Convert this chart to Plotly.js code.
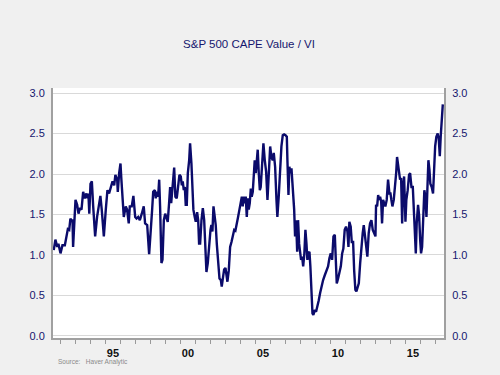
<!DOCTYPE html>
<html>
<head>
<meta charset="utf-8">
<script src="https://cdn.plot.ly/plotly-3.0.1.min.js"></script>
<style>html,body{margin:0;padding:0;background:#f0f0f0;}#chart{width:500px;height:375px;}</style>
</head>
<body>
<div id="chart"></div>
<script>
// Time (decimal years) and S&P 500 CAPE Value / VI ratio
const years = [
1991.55,1991.66,1991.78,1991.86,1992.00,1992.13,1992.29,1992.40,1992.49,1992.58,1992.66,1992.75,1992.80,1992.84,
1993.00,1993.11,1993.20,1993.29,1993.40,1993.51,1993.62,1993.73,1993.80,1993.86,1993.92,1994.00,1994.09,1994.18,
1994.31,1994.44,1994.53,1994.66,1994.75,1994.89,1995.02,1995.13,1995.24,1995.33,1995.47,1995.58,1995.66,1995.78,
1995.82,1995.91,1996.00,1996.06,1996.13,1996.22,1996.35,1996.44,1996.55,1996.62,1996.75,1996.86,1996.98,1997.07,
1997.18,1997.29,1997.42,1997.55,1997.64,1997.78,
1997.91,1998.02,1998.11,1998.18,1998.29,1998.35,1998.44,1998.51,1998.58,1998.64,1998.73,1998.80,1998.89,1998.98,
1999.06,1999.15,1999.24,1999.31,1999.38,1999.44,1999.51,1999.58,1999.66,1999.75,1999.84,1999.93,2000.02,2000.09,
2000.15,2000.22,2000.29,2000.35,2000.42,2000.49,2000.58,2000.64,2000.73,2000.80,2000.86,2000.95,2001.02,2001.11,
2001.18,2001.24,2001.31,2001.40,2001.49,2001.58,2001.66,2001.73,2001.82,2001.91,2002.00,2002.06,2002.13,2002.20,
2002.29,2002.35,2002.42,2002.51,2002.60,2002.69,2002.75,2002.84,2002.91,2003.00,2003.06,2003.13,2003.22,2003.31,
2003.40,2003.49,2003.58,2003.66,2003.75,2003.84,2003.93,2004.02,2004.09,2004.15,2004.20,2004.26,
2004.35,2004.42,2004.49,2004.55,2004.62,2004.69,2004.75,2004.82,2004.89,2004.95,2005.02,2005.09,2005.15,2005.22,
2005.29,2005.35,2005.44,2005.53,2005.62,2005.71,2005.80,2005.89,2005.98,2006.06,2006.15,2006.22,2006.31,2006.40,
2006.46,2006.55,2006.64,2006.73,2006.82,2006.91,2007.00,2007.09,2007.13,2007.20,2007.26,2007.33,2007.40,2007.49,
2007.58,2007.64,2007.71,2007.78,2007.84,2007.91,2007.98,2008.04,2008.11,2008.18,2008.26,2008.33,2008.40,2008.46,
2008.53,2008.60,2008.66,2008.73,2008.80,2008.86,2008.95,2009.04,2009.13,2009.22,2009.31,2009.40,2009.51,2009.62,
2009.73,2009.84,2009.93,2010.02,2010.11,2010.20,2010.29,2010.35,2010.42,2010.51,2010.60,2010.69,2010.78,2010.86,
2010.95,2011.04,2011.13,2011.20,2011.26,2011.35,2011.42,2011.51,2011.58,2011.66,2011.73,2011.80,2011.89,2011.98,
2012.06,2012.15,2012.22,2012.31,2012.40,2012.46,2012.55,2012.64,2012.73,2012.82,2012.91,2013.00,2013.04,2013.11,
2013.18,2013.24,2013.31,2013.38,2013.44,2013.51,2013.58,2013.66,2013.75,2013.84,2013.93,2014.00,2014.06,2014.13,
2014.22,2014.29,2014.38,2014.44,2014.51,2014.58,2014.64,2014.71,2014.78,2014.84,2014.91,2015.00,2015.06,2015.15,
2015.24,2015.31,2015.40,2015.49,2015.55,2015.62,2015.69,2015.75,2015.84,2015.91,2015.98,2016.04,2016.11,2016.20,
2016.26,2016.33,2016.40,2016.46,2016.53,2016.60,2016.66,2016.75,2016.84,2016.91,2016.98,2017.06,2017.15,2017.22,
2017.29,2017.35,2017.42,2017.49
];
const ratio = [
1.06,1.19,1.10,1.14,1.02,1.12,1.12,1.21,1.32,1.31,1.45,1.41,1.44,1.10,
1.68,1.62,1.51,1.58,1.56,1.78,1.70,1.76,1.70,1.76,1.51,1.88,1.91,1.60,
1.23,1.47,1.60,1.73,1.56,1.23,1.56,1.80,1.76,1.82,1.91,1.86,1.99,1.93,
1.78,2.01,2.13,1.93,1.72,1.47,1.60,1.56,1.39,1.60,1.60,1.73,1.47,1.45,
1.47,1.43,1.51,1.60,1.39,1.37,
1.01,1.27,1.56,1.78,1.80,1.70,1.78,1.72,1.93,1.60,0.90,0.94,1.43,1.51,
1.47,1.41,1.64,1.84,1.64,1.78,1.91,2.08,1.72,1.70,1.84,1.99,1.97,1.86,
1.91,1.80,1.84,1.62,1.62,2.01,2.17,2.38,2.13,1.84,1.56,1.47,1.41,1.53,
1.43,1.14,1.14,1.43,1.58,1.43,1.06,0.79,0.90,1.14,1.31,1.37,1.29,1.60,
1.47,1.37,1.14,0.90,0.71,0.69,0.61,0.73,0.82,0.84,0.77,0.67,0.81,1.10,
1.16,1.25,1.31,1.30,1.37,1.47,1.56,1.68,1.72,1.60,1.72,1.64,
1.72,1.47,1.70,1.56,1.64,1.82,1.72,1.78,2.01,2.17,2.01,2.21,2.30,2.01,
1.80,1.84,2.13,2.38,2.17,2.03,1.68,2.09,2.34,2.21,2.17,2.26,2.09,1.68,
1.47,1.72,2.09,2.34,2.48,2.49,2.48,2.46,2.17,1.74,2.09,2.01,2.07,1.84,
1.56,1.23,1.43,1.04,1.43,1.14,1.02,0.94,0.98,0.86,1.02,1.31,1.14,0.94,
1.02,1.04,0.86,0.57,0.28,0.26,0.32,0.30,0.36,0.44,0.53,0.61,0.69,0.75,
0.81,0.86,0.96,1.02,0.94,1.23,1.25,0.94,0.65,0.71,0.77,0.86,1.02,1.08,
1.31,1.35,1.29,1.10,1.41,1.35,1.16,1.16,0.81,0.57,0.55,0.61,0.65,0.90,
1.10,1.27,1.37,1.19,1.00,0.98,1.27,1.39,1.43,1.31,1.27,1.23,1.62,1.60,
1.74,1.68,1.72,1.66,1.39,1.68,1.64,1.60,1.68,1.93,1.76,1.76,1.68,1.60,
1.68,1.80,2.01,2.21,2.11,1.97,1.93,1.95,1.39,1.84,1.97,1.41,1.68,1.80,
1.99,2.01,1.84,1.84,1.66,1.31,1.02,1.39,1.62,1.49,1.19,1.02,1.10,1.60,
1.80,1.72,1.47,1.80,2.17,2.05,1.88,1.84,1.76,2.05,2.34,2.46,2.50,2.44,
2.22,2.46,2.75,2.86
];
const yTicks = [0, 0.5, 1.0, 1.5, 2.0, 2.5, 3.0];
const xTickVals = [1995.5, 2000.5, 2005.5, 2010.5, 2015.5];
const xTickText = ['95', '00', '05', '10', '15'];
const chartTitle = 'S&P 500 CAPE Value / VI';
const sourceText = 'Source:   Haver Analytic';

const navy = '#16166e';
const fontFam = 'Liberation Sans, Arial, sans-serif';
const yRange = [-0.025, 3.062];
const xRange = [1991.5, 2017.57];

const traces = [
  {x: years, y: ratio, type: 'scatter', mode: 'lines', line: {color: '#0b0b6b', width: 2.4}, hoverinfo: 'x+y', showlegend: false},
  {x: years, y: ratio, type: 'scatter', mode: 'lines', yaxis: 'y2', line: {color: '#0b0b6b', width: 2.4}, opacity: 0, hoverinfo: 'skip', showlegend: false}
];

const layout = {
  width: 500, height: 375,
  paper_bgcolor: '#f0f0f0', plot_bgcolor: '#ffffff',
  margin: {l: 53, r: 56, t: 88, b: 37, pad: 0},
  showlegend: false,
  title: {text: chartTitle, font: {family: fontFam, size: 11.5, color: navy}, x: 0.498, xanchor: 'center', xref: 'container', y: 1 - 44/375, yanchor: 'middle', yref: 'container'},
  xaxis: {
    range: xRange, tickmode: 'array', tickvals: xTickVals, ticktext: xTickText,
    ticks: '', showgrid: false, zeroline: false, showline: true, linecolor: '#a0a0a0', linewidth: 2,
    tickfont: {family: fontFam, size: 11, color: '#111111', weight: 'bold'},
    minor: {ticks: 'outside', tick0: 1992, dtick: 1, ticklen: 4, tickwidth: 1, tickcolor: '#999999', showgrid: false},
    ticklabelstandoff: 4
  },
  yaxis: {
    range: yRange, tickmode: 'array', tickvals: yTicks, tickformat: '.1f',
    ticks: '', showgrid: true, gridcolor: '#d9d9d9', gridwidth: 1, zeroline: false,
    showline: true, linecolor: '#a0a0a0', linewidth: 2,
    tickfont: {family: fontFam, size: 11, color: navy}, ticklabelstandoff: 4
  },
  yaxis2: {
    range: yRange, tickmode: 'array', tickvals: yTicks, tickformat: '.1f', overlaying: 'y', side: 'right',
    ticks: '', showgrid: false, zeroline: false,
    showline: true, linecolor: '#a0a0a0', linewidth: 2,
    tickfont: {family: fontFam, size: 11, color: navy}, ticklabelstandoff: 4
  },
  annotations: [
    {text: sourceText, xref: 'paper', yref: 'paper', x: 0.008, y: -0.096, xanchor: 'left', yanchor: 'middle', showarrow: false, font: {family: fontFam, size: 6.5, color: '#8a8a8a'}}
  ]
};

Plotly.newPlot('chart', traces, layout, {displayModeBar: false, staticPlot: true});
</script>
</body>
</html>
